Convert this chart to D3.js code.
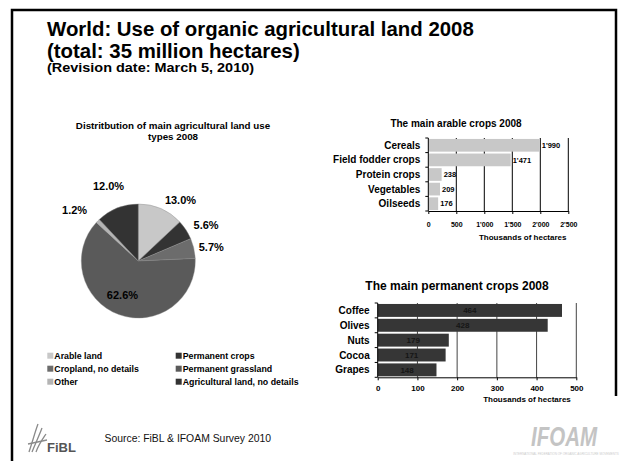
<!DOCTYPE html>
<html><head><meta charset="utf-8">
<script src="https://cdn.jsdelivr.net/npm/d3@7"></script>
<style>
html,body{margin:0;padding:0;background:#fff;}
svg{display:block;font-family:"Liberation Sans",Arial,sans-serif;}
</style></head>
<body>
<svg id="c" width="621" height="461"></svg>
<script>
// ---------- data ----------
const pieCategories = ["Arable land","Permanent crops","Cropland, no details","Permanent grassland","Other","Agricultural land, no details"];
const pieValues = [13.0, 5.6, 5.7, 62.6, 1.2, 12.0];
const pieColors = ["#c8c8c8","#333333","#6c6c6c","#5a5a5a","#b4b4b4","#333333"];

const arableCrops = ["Cereals","Field fodder crops","Protein crops","Vegetables","Oilseeds"];
const arableValues = [1990, 1471, 238, 209, 176];
const arableTicks = [0, 500, 1000, 1500, 2000, 2500];

const permCrops = ["Coffee","Olives","Nuts","Cocoa","Grapes"];
const permValues = [464, 428, 179, 171, 148];
const permTicks = [0, 100, 200, 300, 400, 500];

const svg = d3.select("#c");
const F = '"Liberation Sans",Arial,sans-serif';

// ---------- frame ----------
svg.append("path").attr("d","M12,470 L12,10 L616,10 L616,396")
  .attr("fill","none").attr("stroke","#000").attr("stroke-width",2.5);

// ---------- titles ----------
svg.append("text").attr("x",47).attr("y",36).attr("font-size",20.4).attr("font-weight","bold")
  .text("World: Use of organic agricultural land 2008");
svg.append("text").attr("x",47).attr("y",57.5).attr("font-size",20.4).attr("font-weight","bold")
  .text("(total: 35 million hectares)");
svg.append("text").attr("x",47).attr("y",72).attr("font-size",12).attr("font-weight","bold")
  .attr("textLength",207).attr("lengthAdjust","spacingAndGlyphs")
  .text("(Revision date: March 5, 2010)");

// ---------- pie ----------
const cx = 138.3, cy = 261, R = 57;
svg.append("text").attr("x",173).attr("y",128.5).attr("text-anchor","middle")
  .attr("font-size",9.8).attr("font-weight","bold").text("Distritbution of main agricultural land use");
svg.append("text").attr("x",173).attr("y",140).attr("text-anchor","middle")
  .attr("font-size",9.8).attr("font-weight","bold").text("types 2008");

const pieData = pieCategories.map((c,i)=>({cat:c, v:pieValues[i], col:pieColors[i]}));
const pie = d3.pie().sort(null).value(d=>d.v);
const arcs = pie(pieData);
const arcGen = d3.arc().innerRadius(0).outerRadius(R);
const pg = svg.append("g").attr("transform",`translate(${cx},${cy})`);
pg.selectAll("path").data(arcs).join("path")
  .attr("d",arcGen).attr("fill",d=>d.data.col)
  .attr("stroke","#8a8a8a").attr("stroke-width",0.4);
const total = d3.sum(pieValues);
// label gap beyond the rim (style only), per slice
const labelGap = [10, 9, 5, 0, 15, 24];
pg.selectAll("text").data(arcs).join("text")
  .each(function(d,i){
    const a = (d.startAngle + d.endAngle)/2;
    const dx = Math.sin(a), dy = -Math.cos(a);
    const frac = d.data.v/total;
    const t = d3.select(this);
    if (frac > 0.3) {
      t.attr("x", dx*R*0.66 - 3).attr("y", dy*R*0.64 + 4).attr("text-anchor","middle");
    } else {
      const dist = R + labelGap[i];
      const anchor = dx > 0.3 ? "start" : (dx < -0.5 ? "end" : "middle");
      t.attr("x", dx*dist).attr("y", dy*dist + 4).attr("text-anchor", anchor);
    }
  })
  .attr("font-size",11).attr("font-weight","bold").attr("fill","#000")
  .text(d=>d.data.v.toFixed(1)+"%");

// legend (Excel row-major two columns)
const lg = svg.append("g");
pieData.forEach((d,i)=>{
  const col = i%2, row = Math.floor(i/2);
  const x = col===0 ? 47.3 : 175.7;
  const y = 355.7 + row*13;
  lg.append("rect").attr("x",x).attr("y",y-3).attr("width",6).attr("height",6).attr("fill",d.col);
  lg.append("text").attr("x",x+7).attr("y",y+3.2).attr("font-size",8.8).attr("font-weight","bold").text(d.cat);
});

// ---------- bar chart helper ----------
function barChart(o){
  const g = svg.append("g");
  const x = d3.scaleLinear().domain([o.ticks[0], o.ticks[o.ticks.length-1]]).range([o.x0,o.x1]);
  const y = d3.scaleBand().domain(o.cats).range([o.y0,o.y1]).paddingInner(o.pad).paddingOuter(o.pad/2);
  // gridlines
  g.selectAll("line.grid").data(o.ticks.slice(1)).join("line")
    .attr("x1",d=>x(d)).attr("x2",d=>x(d)).attr("y1",o.y0).attr("y2",o.y1)
    .attr("stroke",o.gridCol).attr("stroke-width",1);
  // bars
  g.selectAll("rect").data(o.vals).join("rect")
    .attr("x",x(0)).attr("y",(d,i)=>y(o.cats[i])).attr("width",d=>x(d)-x(0))
    .attr("height",y.bandwidth()).attr("fill",o.barCol);
  // x axis
  const xa = g.append("g").attr("transform",`translate(0,${o.y1})`)
    .call(d3.axisBottom(x).tickValues(o.ticks).tickSize(3).tickSizeOuter(0).tickFormat(o.fmt));
  xa.select(".domain").attr("stroke","#000");
  xa.selectAll("text").attr("font-size",o.tickFs).attr("font-weight","bold").attr("font-family",F)
    .attr("fill","#000").attr("y",o.tickY).attr("dy","0.35em");
  // y axis line + ticks at band boundaries
  g.append("line").attr("x1",x(0)).attr("x2",x(0)).attr("y1",o.y0).attr("y2",o.y1).attr("stroke","#000");
  const bounds = o.cats.map(c=>y(c)-y.step()*y.paddingInner()/2).concat([o.y1]);
  g.selectAll("line.yt").data(bounds).join("line")
    .attr("x1",x(0)-3).attr("x2",x(0)).attr("y1",d=>d).attr("y2",d=>d).attr("stroke","#000");
  // category labels
  g.selectAll("text.cat").data(o.cats).join("text")
    .attr("x",x(0)-8).attr("y",c=>y(c)+y.bandwidth()/2).attr("dy","0.35em")
    .attr("text-anchor","end").attr("font-size",o.catFs).attr("font-weight","bold").text(c=>c);
  // value labels
  g.selectAll("text.val").data(o.vals).join("text")
    .attr("x",d=> o.inside ? x(0)+(x(d)-x(0))/2 : x(d)+2)
    .attr("y",(d,i)=>y(o.cats[i])+y.bandwidth()/2).attr("dy","0.35em")
    .attr("text-anchor",o.inside?"middle":"start")
    .attr("font-size",o.valFs).attr("font-weight","bold").attr("fill",o.valCol).text(o.fmt);
  // titles
  g.append("text").attr("x",o.titleX).attr("y",o.titleY).attr("text-anchor","middle")
    .attr("font-size",o.titleFs).attr("font-weight","bold").text(o.title);
  g.append("text").attr("x",o.axTitleX).attr("y",o.axTitleY).attr("text-anchor","middle")
    .attr("font-size",8).attr("font-weight","bold").text("Thousands of hectares");
}
const fmtThousands = d => { const s = String(d); return s.length>3 ? s.slice(0,s.length-3)+"'"+s.slice(-3) : s; };

barChart({cats:arableCrops, vals:arableValues, ticks:arableTicks, x0:428.3, x1:568.3, y0:138, y1:211,
  pad:0.13, barCol:"#c8c8c8", gridCol:"#000", fmt:fmtThousands, tickFs:7, tickY:14, catFs:10, valFs:7.5, valCol:"#000",
  inside:false, title:"The main arable crops 2008", titleX:456, titleY:126.5, titleFs:10, axTitleX:522.7, axTitleY:240});

barChart({cats:permCrops, vals:permValues, ticks:permTicks, x0:377.7, x1:576.3, y0:303, y1:377.3,
  pad:0.13, barCol:"#363636", gridCol:"#444", fmt:d=>String(d), tickFs:8, tickY:11, catFs:10, valFs:8, valCol:"#151515",
  inside:true, title:"The main permanent crops 2008", titleX:457, titleY:290, titleFs:12, axTitleX:527, axTitleY:402});

// ---------- footer ----------
svg.append("text").attr("x",104.5).attr("y",441.5).attr("font-size",10.4).attr("fill","#111")
  .text("Source: FiBL & IFOAM Survey 2010");
// FiBL logo (approximation)
const fl = svg.append("g").attr("stroke","#8a8a8a").attr("fill","none").attr("stroke-width",1.3);
fl.append("path").attr("d","M29,452 C33,440 35,432 38,424");
fl.append("path").attr("d","M32,452 C36,442 39,436 42,428");
fl.append("path").attr("d","M36,452 C39,444 42,440 46,434");
fl.append("path").attr("d","M28,444 L47,440");
svg.append("text").attr("x",47).attr("y",452).attr("font-size",13).attr("font-weight","bold")
  .attr("fill","#555").text("FiBL");
// IFOAM logo (approximation)
svg.append("text").attr("x",564).attr("y",446).attr("text-anchor","middle").attr("font-size",28)
  .attr("font-style","italic").attr("font-weight","bold").attr("fill","#c4c4c4").attr("textLength",66)
  .attr("lengthAdjust","spacingAndGlyphs").text("IFOAM");
svg.append("text").attr("x",566).attr("y",455).attr("text-anchor","middle").attr("font-size",3)
  .attr("fill","#ccc").text("INTERNATIONAL FEDERATION OF ORGANIC AGRICULTURE MOVEMENTS");
</script>
</body></html>
